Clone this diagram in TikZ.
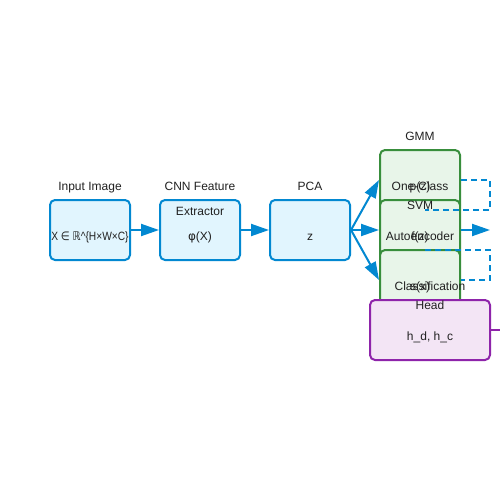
\documentclass[tikz,border=0pt]{standalone}
\usepackage{fontspec}
\setmainfont{Liberation Sans}
\newfontfamily\dejavu{DejaVu Sans}
\usetikzlibrary{arrows.meta}
\definecolor{bfill}{HTML}{E1F5FE}
\definecolor{bline}{HTML}{0288D1}
\definecolor{gfill}{HTML}{E8F5E9}
\definecolor{gline}{HTML}{388E3C}
\definecolor{pfill}{HTML}{F3E5F5}
\definecolor{pline}{HTML}{8E24AA}
\definecolor{txtc}{HTML}{212121}
\tikzset{
  box/.style={rectangle, rounded corners=5pt, line width=2pt, inner sep=0pt, minimum width=80pt, minimum height=60pt},
  bluebox/.style={box, draw=bline, fill=bfill},
  greenbox/.style={box, draw=gline, fill=gfill},
  purplebox/.style={box, draw=pline, fill=pfill, minimum width=120pt},
  txt/.style={anchor=base, inner sep=0pt, text=txtc, font=\fontsize{12pt}{14pt}\selectfont},
  arr/.style={draw=bline, line width=2pt, -{Triangle[length=18pt,width=12pt]}},
  dashline/.style={draw=bline, line width=2pt, dash pattern=on 6pt off 4pt},
  pline/.style={draw=pline, line width=2pt}
}
\begin{document}
\begin{tikzpicture}[x=1pt,y=-1pt]
\useasboundingbox (0,0) rectangle (500,500);
\fill[white] (0,0) rectangle (500,500);
% Input
\node[bluebox] (inp) at (90,230) {};
\node[txt] (inpL) at (90,190) {Input Image};
\node[txt] (inpT) at (90,240) {\scalebox{0.85}[1]{X {\dejavu ∈} {\dejavu ℝ}\textasciicircum\{H×W×C\}}};
% CNN
\node[bluebox] (cnn) at (200,230) {};
\node[txt] (cnnL1) at (200,190) {CNN Feature};
\node[txt] (cnnL2) at (200,215) {Extractor};
\node[txt] (cnnT) at (200,240) {{\dejavu φ}(X)};
% PCA
\node[bluebox] (pca) at (310,230) {};
\node[txt] (pcaL) at (310,190) {PCA};
\node[txt] (pcaT) at (310,240) {z};
% GMM
\node[greenbox] (gmm) at (420,180) {};
\node[txt] (gmmL) at (420,140) {GMM};
\node[txt] (gmmT) at (420,190) {p(z)};
% SVM
\node[greenbox] (svm) at (420,230) {};
\node[txt] (svmL1) at (420,190) {One-Class};
\node[txt] (svmL2) at (420,209) {SVM};
\node[txt] (svmT) at (420,240) {f(z)};
% Autoencoder
\node[greenbox] (ae) at (420,280) {};
\node[txt] (aeL) at (420,240) {Autoencoder};
\node[txt] (aeT) at (420,290) {s(x)};
% Classification head
\node[purplebox] (cls) at (430,330) {};
\node[txt] (clsL1) at (430,290) {Classification};
\node[txt] (clsL2) at (430,309) {Head};
\node[txt] (clsT) at (430,340) {h\_d, h\_c};
% connectors
\draw[arr] (inp.east) -- (cnn.west);
\draw[arr] (cnn.east) -- (pca.west);
\draw[arr] (pca.east) -- (gmm.west);
\draw[arr] (pca.east) -- (svm.west);
\draw[arr] (pca.east) -- (ae.west);
\coordinate (svmOut) at (490,230);
\draw[arr] (svm.east) -- (svmOut);
\coordinate (d1a) at (490,180);
\coordinate (d1b) at (490,210);
\coordinate (d1c) at (425,210);
\draw[dashline] (gmm.east) -- (d1a) -- (d1b) -- (d1c);
\coordinate (d2a) at (425,250);
\coordinate (d2b) at (490,250);
\coordinate (d2c) at (490,280);
\draw[dashline] (d2a) -- (d2b) -- (d2c) -- (ae.east);
\coordinate (clsOut) at (500,330);
\draw[pline] (cls.east) -- (clsOut);
\end{tikzpicture}
\end{document}
